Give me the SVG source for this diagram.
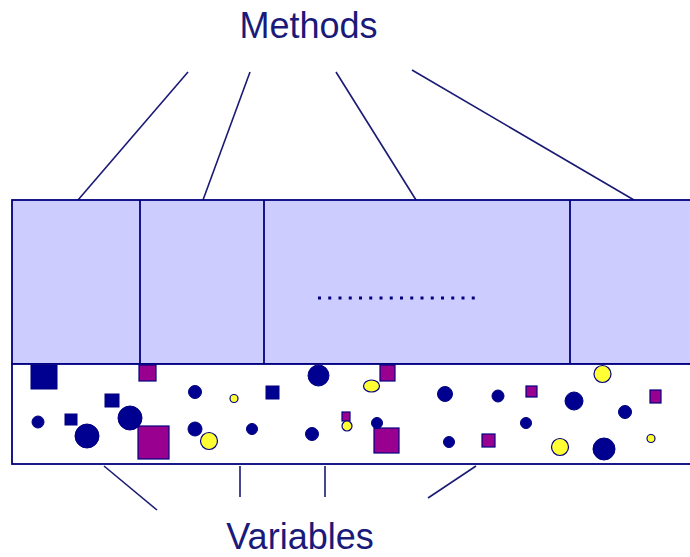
<svg xmlns="http://www.w3.org/2000/svg" width="690" height="557" viewBox="0 0 690 557">
  <style>
    .label { font-family: "Liberation Sans", Arial, sans-serif; font-size: 36px; fill: #1a1a7a; text-anchor: middle; }
    .link { stroke: #1a1a75; stroke-width: 1.6; fill: none; }
    .box { stroke: #000080; stroke-width: 1.8; }
    .dark { fill: #000090; stroke: #000080; stroke-width: 1; }
    .mag { fill: #990090; stroke: #000080; stroke-width: 1.2; }
    .yel { fill: #ffff33; stroke: #000080; stroke-width: 1.2; }
  </style>

  <!-- labels -->
  <g id="methods-label"><text class="label" x="308.5" y="38">Methods</text></g>
  <g id="variables-label"><text class="label" x="300" y="549">Variables</text></g>

  <!-- connectors from labels to the object -->
  <g id="connectors">
    <line class="link" x1="188" y1="72" x2="78" y2="200"/>
    <line class="link" x1="250" y1="72" x2="203" y2="200"/>
    <line class="link" x1="336" y1="72" x2="416" y2="200"/>
    <line class="link" x1="412" y1="70" x2="634" y2="200"/>
    <line class="link" x1="104" y1="466" x2="157" y2="510"/>
    <line class="link" x1="240" y1="466" x2="240" y2="497"/>
    <line class="link" x1="325" y1="466" x2="325" y2="497"/>
    <line class="link" x1="476" y1="466" x2="428" y2="498"/>
  </g>

  <!-- methods band -->
  <g id="methods-band">
    <rect class="box" x="12" y="200" width="680" height="164" fill="#ccccff"/>
    <line class="box" x1="140" y1="200" x2="140" y2="364"/>
    <line class="box" x1="264" y1="200" x2="264" y2="364"/>
    <line class="box" x1="570" y1="200" x2="570" y2="364"/>
    <line x1="318" y1="298" x2="482" y2="298" stroke="#000080" stroke-width="3" stroke-dasharray="3 7.25"/>
  </g>

  <!-- variables band -->
  <g id="variables-band">
    <rect class="box" x="12" y="364" width="680" height="100" fill="#ffffff"/>
    <!-- navy squares -->
    <rect class="dark" x="31" y="365" width="26" height="24"/>
    <rect class="dark" x="105" y="394" width="14" height="13"/>
    <rect class="dark" x="65" y="414" width="12" height="11"/>
    <rect class="dark" x="266" y="386" width="13" height="13"/>
    <!-- magenta squares -->
    <rect class="mag" x="139" y="365" width="17" height="16"/>
    <rect class="mag" x="138" y="426" width="31" height="33"/>
    <rect class="mag" x="380" y="365" width="15" height="16"/>
    <rect class="mag" x="342" y="412" width="8" height="9"/>
    <rect class="mag" x="374" y="428" width="25" height="25"/>
    <rect class="mag" x="526" y="386" width="11" height="11"/>
    <rect class="mag" x="650" y="390" width="11" height="13"/>
    <rect class="mag" x="482" y="434" width="13" height="13"/>
    <!-- navy dots -->
    <circle class="dark" cx="195" cy="392" r="6.5"/>
    <circle class="dark" cx="38" cy="422" r="6"/>
    <circle class="dark" cx="87" cy="436" r="12"/>
    <circle class="dark" cx="130" cy="418" r="12"/>
    <circle class="dark" cx="195" cy="429" r="7"/>
    <circle class="dark" cx="318.5" cy="375.5" r="10.5"/>
    <circle class="dark" cx="252" cy="429" r="5.5"/>
    <circle class="dark" cx="312" cy="434" r="6.5"/>
    <circle class="dark" cx="377" cy="423" r="5.5"/>
    <circle class="dark" cx="445" cy="394" r="7.5"/>
    <circle class="dark" cx="449" cy="442" r="5.5"/>
    <circle class="dark" cx="498" cy="396" r="6"/>
    <circle class="dark" cx="574" cy="401" r="9"/>
    <circle class="dark" cx="625" cy="412" r="6.5"/>
    <circle class="dark" cx="526" cy="423" r="5.5"/>
    <circle class="dark" cx="604" cy="449" r="11"/>
    <!-- yellow dots -->
    <circle class="yel" cx="209" cy="441" r="8.5"/>
    <circle class="yel" cx="234" cy="398.5" r="4"/>
    <ellipse class="yel" cx="371.5" cy="386" rx="8" ry="6"/>
    <circle class="yel" cx="347" cy="426" r="5"/>
    <circle class="yel" cx="602.5" cy="374" r="8.5"/>
    <circle class="yel" cx="560" cy="447" r="8.5"/>
    <circle class="yel" cx="651" cy="438.5" r="4"/>
  </g>
</svg>
